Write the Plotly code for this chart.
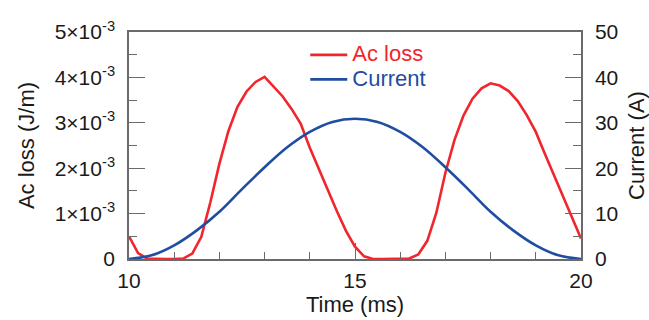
import plotly.graph_objects as go

# Time axis samples (ms) and AC loss per unit length (x1e-3 J/m)
loss_time = [10.0, 10.2, 10.4, 10.6, 10.8, 11.0, 11.2, 11.4, 11.6, 11.8,
             12.0, 12.2, 12.4, 12.6, 12.8, 13.0, 13.2, 13.4, 13.6, 13.8,
             14.0, 14.2, 14.4, 14.6, 14.8, 15.0, 15.2, 15.4, 15.6, 15.8,
             16.0, 16.2, 16.4, 16.6, 16.8, 17.0, 17.2, 17.4, 17.6, 17.8,
             18.0, 18.2, 18.4, 18.6, 18.8, 19.0, 19.2, 19.4, 19.6, 19.8, 20.0]
ac_loss_milli = [0.50, 0.13, 0.01, 0.0, 0.0, 0.0, 0.01, 0.12, 0.49, 1.25,
                 2.10, 2.82, 3.35, 3.69, 3.90, 4.01, 3.80, 3.58, 3.30, 2.98,
                 2.45, 1.97, 1.50, 1.05, 0.62, 0.27, 0.06, 0.0, 0.0, 0.0,
                 0.0, 0.01, 0.10, 0.40, 1.02, 1.90, 2.62, 3.16, 3.53, 3.76,
                 3.87, 3.82, 3.70, 3.48, 3.17, 2.80, 2.32, 1.85, 1.37, 0.90, 0.45]

# Transport current (A)
current_time = [10.0, 10.5, 11.0, 11.5, 12.0, 12.5, 13.0, 13.5, 14.0, 14.5, 15.0,
                15.5, 16.0, 16.5, 17.0, 17.5, 18.0, 18.5, 19.0, 19.5, 20.0]
current_amp = [0.0, 0.8, 3.0, 6.3, 10.4, 15.4, 20.2, 24.6, 28.0, 30.2, 30.9,
               30.2, 28.0, 24.6, 20.2, 15.4, 10.4, 6.3, 3.0, 0.8, 0.0]

# Axis ticks
x_ticks = [10, 15, 20]
loss_ticks = [0, 1e-3, 2e-3, 3e-3, 4e-3, 5e-3]
loss_ticktext = ["0", "1×10<sup>-3</sup>", "2×10<sup>-3</sup>", "3×10<sup>-3</sup>",
                 "4×10<sup>-3</sup>", "5×10<sup>-3</sup>"]
current_ticks = [0, 10, 20, 30, 40, 50]

RED = "#F0262C"
BLUE = "#1F4DA0"
AXIS = "#6a6a6a"
FONT = "Liberation Sans, Arial, sans-serif"

ac_loss = [v * 1e-3 for v in ac_loss_milli]


def legend_label(text, color):
    # legend entries are written in the colour of their own line
    return f"<span style='color:{color};font-size:22px'>{text}</span>"


fig = go.Figure()
fig.add_trace(go.Scatter(
    x=loss_time, y=ac_loss, name=legend_label("Ac loss", RED), mode="lines",
    line=dict(color=RED, width=2.6), yaxis="y",
))
fig.add_trace(go.Scatter(
    x=current_time, y=current_amp, name=legend_label("Current", BLUE), mode="lines",
    line=dict(color=BLUE, width=2.6, shape="spline", smoothing=1.0), yaxis="y2",
))

tick_font = dict(family=FONT, size=21, color="#1a1a1a")
title_font = dict(family=FONT, size=22, color="#1a1a1a")

fig.update_layout(
    width=649, height=320,
    margin=dict(l=129, r=68, t=32, b=61),
    paper_bgcolor="white", plot_bgcolor="white",
    font=dict(family=FONT),
    showlegend=True,
    legend=dict(
        x=0.39, y=0.975, xanchor="left", yanchor="top",
        bgcolor="rgba(0,0,0,0)", borderwidth=0,
        font=dict(family=FONT, size=16.5), tracegroupgap=0,
        itemwidth=37,
    ),
    xaxis=dict(
        range=[10, 20], tickvals=x_ticks, ticks="inside", ticklen=16,
        tickwidth=1.3, tickcolor=AXIS, showline=True, linecolor=AXIS,
        linewidth=1.5, mirror=True, showgrid=False, zeroline=False,
        tickfont=tick_font, ticklabelstandoff=2, automargin=False,
        minor=dict(tickmode="linear", tick0=10, dtick=1, ticks="inside",
                   ticklen=7, tickwidth=1.3, tickcolor=AXIS, showgrid=False),
        title=dict(text="Time (ms)", font=title_font, standoff=6),
    ),
    yaxis=dict(
        range=[0, 5e-3], tickvals=loss_ticks, ticktext=loss_ticktext,
        ticks="inside", ticklen=16, tickwidth=1.3, tickcolor=AXIS,
        showline=True, linecolor=AXIS, linewidth=1.5, showgrid=False,
        zeroline=False, tickfont=tick_font, ticklabelstandoff=8,
        automargin=False,
        minor=dict(tickmode="linear", tick0=0, dtick=0.5e-3, ticks="inside",
                   ticklen=8, tickwidth=1.3, tickcolor=AXIS, showgrid=False),
        title=dict(text="Ac loss (J/m)", font=title_font, standoff=14),
    ),
    yaxis2=dict(
        range=[0, 50], tickvals=current_ticks, overlaying="y", side="right",
        ticks="inside", ticklen=16, tickwidth=1.3, tickcolor=AXIS,
        showline=True, linecolor=AXIS, linewidth=1.5, showgrid=False,
        zeroline=False, tickfont=tick_font, ticklabelstandoff=8,
        automargin=False,
        minor=dict(tickmode="linear", tick0=0, dtick=5, ticks="inside",
                   ticklen=8, tickwidth=1.3, tickcolor=AXIS, showgrid=False),
        title=dict(text="Current (A)", font=title_font, standoff=11),
    ),
)

fig.write_html("out.html")
